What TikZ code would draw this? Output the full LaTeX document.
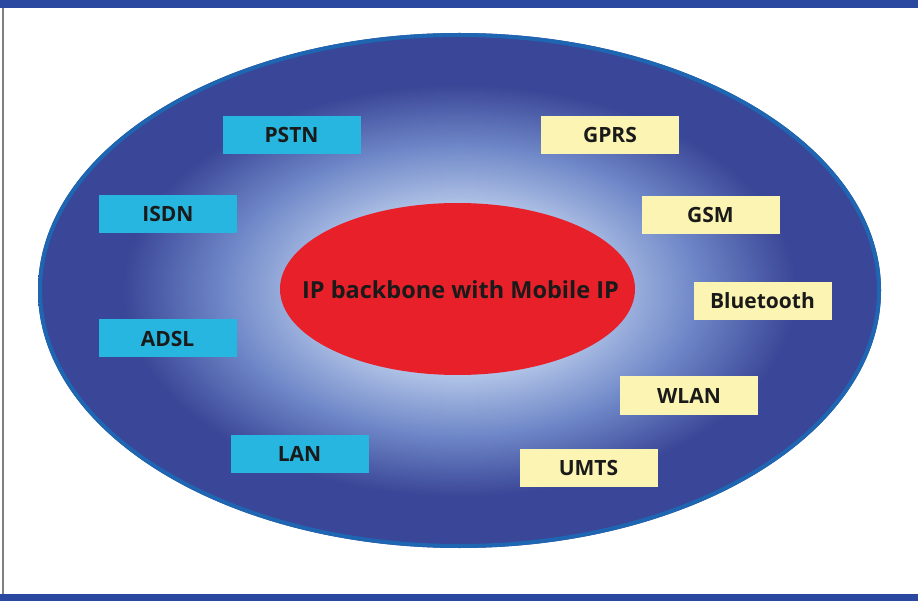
\documentclass[tikz,border=0pt]{standalone}
\usepackage{fontspec}
\setmainfont{Open Sans}
\usetikzlibrary{shapes.geometric}

\definecolor{frameblue}{HTML}{2A48A0}
\definecolor{rimblue}{HTML}{1E66B2}
\definecolor{darkfill}{HTML}{3A4697}
\definecolor{midfill}{HTML}{6F88C8}
\definecolor{lightfill}{HTML}{B4C6E8}
\definecolor{fixedcyan}{HTML}{26B6DF}
\definecolor{mobileyellow}{HTML}{FCF4B2}
\definecolor{backbonered}{HTML}{E8202A}
\definecolor{labelblack}{HTML}{1A1A1A}

\pgfdeclareradialshading{cloudshade}{\pgfpoint{0bp}{0bp}}{%
  color(0bp)=(lightfill); color(8bp)=(lightfill);
  color(14bp)=(midfill); color(20bp)=(darkfill); color(50bp)=(darkfill)}

\begin{document}
\begin{tikzpicture}[x=1pt, y=-1pt,
  netbox/.style={minimum width=138pt, minimum height=38pt, inner sep=0pt,
    text=labelblack, font=\fontsize{21}{21}\selectfont\bfseries},
  fixednet/.style={netbox, fill=fixedcyan},
  mobilenet/.style={netbox, fill=mobileyellow}]

\useasboundingbox (0,0) rectangle (918,601);

%frame of the page
\fill[frameblue] (0,0) rectangle (918,8);
\fill[frameblue] (0,594) rectangle (918,601);
\draw[gray, line width=1.5pt] (3,8) -- (3,594);

%% outer cloud
\shade[shading=cloudshade] (459.5,290.5) ellipse [x radius=421.5, y radius=257.5];
\draw[rimblue, line width=4pt] (459.5,290.5) ellipse [x radius=419.5, y radius=255.5];

%% backbone
\node[ellipse, fill=backbonered, minimum width=355pt, minimum height=172pt,
  inner sep=0pt] (backbone) at (457.5,289) {};
\node[text=labelblack, font=\fontsize{23.5}{23.5}\selectfont\bfseries]
  (backbonetext) at (460.5,290) {IP backbone with Mobile IP};

%place a box: name, x, y, style, label
\newcommand{\netnode}[5]{
        \node[#4] (#1) at (#2,#3) {#5};
}

%%fixed networks
\netnode{pstn}{291.5}{135.5}{fixednet}{PSTN}
\netnode{isdn}{168}{214.5}{fixednet}{ISDN}
\netnode{adsl}{167.5}{338.5}{fixednet}{ADSL}
\netnode{lan}{299.5}{453.5}{fixednet}{LAN}

%%mobile networks
\netnode{gprs}{610}{135}{mobilenet}{GPRS}
\netnode{gsm}{710.5}{215}{mobilenet}{GSM}
\netnode{bluetooth}{762.5}{301}{mobilenet}{Bluetooth}
\netnode{wlan}{689}{395.5}{mobilenet}{WLAN}
\netnode{umts}{588.5}{467.5}{mobilenet}{UMTS}

\end{tikzpicture}
\end{document}
